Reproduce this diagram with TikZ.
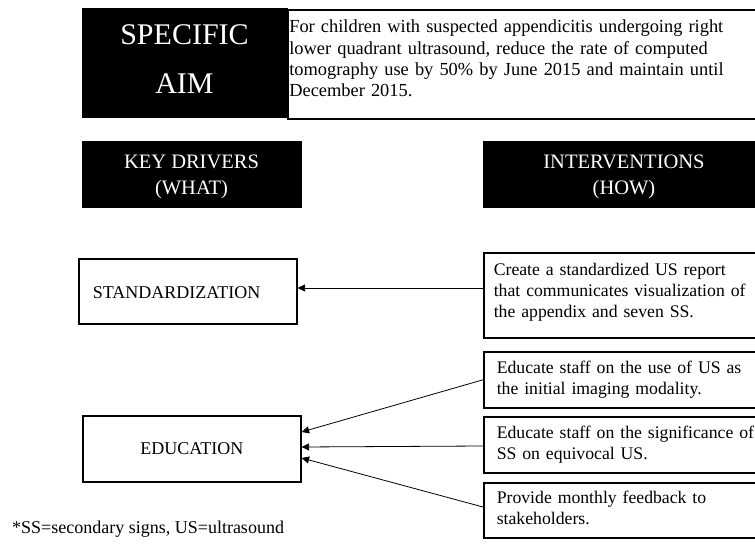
\documentclass[tikz,border=0pt]{standalone}
\usepackage{fontspec}
\setmainfont{Liberation Serif}
\usetikzlibrary{arrows.meta}
\newcommand\up[1]{\rule{0pt}{#1pt}}
\newcommand\dn[1]{\rule[-#1pt]{0pt}{#1pt}}
\begin{document}
\begin{tikzpicture}[x=1pt,y=-1pt,
  frame/.style={draw=black,line width=1.6pt,rectangle,inner ysep=0pt},
  blk/.style={rectangle,fill=black,draw=black,line width=1pt,text=white,align=center,inner sep=0pt},
  txt/.style={frame,anchor=north west,align=left,font=\fontsize{18}{21}\selectfont},
  rtxt/.style={txt,text width=320,inner xsep=13pt,font=\fontsize{17.7}{21}\selectfont},
  conn/.style={line width=0.8pt,-{Triangle[length=7.5pt,width=7pt]}}]
\useasboundingbox (0,0) rectangle (755,545);
\clip (0,0) rectangle (755,545);
% specific aim
\node[txt, minimum width=483, minimum height=109, text width=500, inner xsep=1.5pt,
      font=\fontsize{18.4}{21.3}\selectfont] (aim) at (287,9)
  {\up{13}For children with suspected appendicitis undergoing right\\lower quadrant ultrasound, reduce the rate of computed\\tomography use by 50\% by June 2015 and maintain until\\December 2015.\dn{12}};
\node[blk, minimum width=205, minimum height=109, font=\fontsize{30}{49}\selectfont] (spec) at (184.5,63.5)
  {\up{21}SPECIFIC\\AIM\dn{9}};
% headers
\node[blk, minimum width=219, minimum height=66, font=\fontsize{20.5}{26}\selectfont] (kd) at (191.5,175)
  {\up{17.5}KEY DRIVERS\\(WHAT)\dn{4.5}};
\node[blk, minimum width=282, minimum height=66, font=\fontsize{20.5}{26}\selectfont] (iv) at (624,175)
  {\up{17.5}INTERVENTIONS\\(HOW)\dn{4.5}};
% key drivers
\node[txt, minimum width=218, minimum height=65, text width=190, inner xsep=14pt] (std) at (78,258)
  {\up{15}STANDARDIZATION};
\node[frame, anchor=north west, minimum width=218, minimum height=66, font=\fontsize{18}{21}\selectfont] (edu) at (82,415)
  {EDUCATION};
% interventions
\node[rtxt, minimum width=287, minimum height=85, inner xsep=10pt] (create) at (483,252)
  {\up{13}Create a standardized US report\\that communicates visualization of\\the appendix and seven SS.\dn{10}};
\node[rtxt, minimum width=287, minimum height=56] (e1) at (483,351)
  {\up{13}Educate staff on the use of US as\\the initial imaging modality.\dn{5}};
\node[rtxt, minimum width=287, minimum height=56] (e2) at (483,416)
  {\up{13}Educate staff on the significance of\\SS on equivocal US.\dn{5}};
\node[rtxt, minimum width=287, minimum height=55] (pv) at (483,482)
  {\up{13}Provide monthly feedback to\\stakeholders.\dn{6}};
% footnote
\node[anchor=base west, inner sep=0pt, font=\fontsize{18}{21}\selectfont] (fn) at (12,533)
  {*SS=secondary signs, US=ultrasound};
% connectors
\draw[conn] (create.west |- 0,288) -- (std.east |- 0,288);
\draw[conn] (e1.west) -- (edu.east |- 0,432);
\draw[conn] (e2.west |- 0,446) -- (edu.east |- 0,447);
\draw[conn] (pv.west |- 0,507) -- (edu.east |- 0,458);
\end{tikzpicture}
\end{document}
